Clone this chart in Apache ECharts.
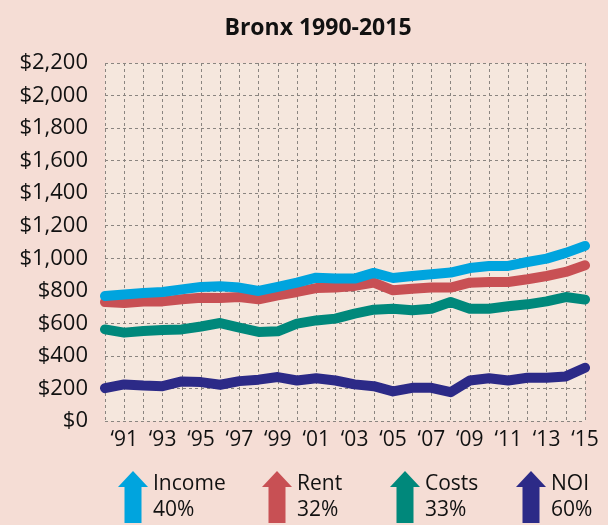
<!DOCTYPE html>
<html>
<head>
<meta charset="utf-8">
<script src="https://cdn.jsdelivr.net/npm/echarts@6/dist/echarts.min.js"></script>
<style>
html,body{margin:0;padding:0;background:#f5ddd5;}
#chart{width:608px;height:525px;}
</style>
</head>
<body>
<div id="chart"></div>
<script>
var years = ['1990','1991','1992','1993','1994','1995','1996','1997','1998','1999','2000','2001','2002','2003','2004','2005','2006','2007','2008','2009','2010','2011','2012','2013','2014','2015'];
var income = [768,778,787,793,809,824,828,820,799,824,850,881,875,875,910,879,891,902,912,940,953,953,977,998,1033,1076];
var rent   = [731,725,735,735,748,758,756,762,748,772,793,817,820,830,850,803,813,820,820,850,854,854,871,891,916,957];
var costs  = [563,543,553,559,563,581,602,574,547,551,598,618,629,660,684,690,680,690,731,690,690,705,717,735,762,746];
var noi    = [202,225,218,214,243,239,223,245,254,270,249,263,249,225,214,182,204,204,177,249,263,249,266,266,274,327];
var seriesNames = ['Income','Rent','Costs','NOI'];
var changes = ['40%','32%','33%','60%'];
var colors = ['#00a4de','#c85054','#00887b','#2c2a87'];
var legendLefts = [118, 262, 390, 516];
var yTicks = {min:0, max:2200, interval:200};

var font = '"Open Sans", "Noto Sans", sans-serif';
var arrow = 'path://M15,0 L30,16 L23.5,16 L23.5,52 L6.5,52 L6.5,16 L0,16 Z';

var chart = echarts.init(document.getElementById('chart'));
var dataMap = {Income: income, Rent: rent, Costs: costs, NOI: noi};
var order = ['NOI','Costs','Rent','Income'];
var series = order.map(function(n){
  var i = seriesNames.indexOf(n);
  return {
    name: n, type: 'line', data: dataMap[n], symbol: 'none', smooth: false,
    lineStyle: {width: 10, color: colors[i], cap: 'round', join: 'round'},
    itemStyle: {color: colors[i]},
    z: 3 + (3 - i)
  };
});
var legends = seriesNames.map(function(n, i){
  return {
    data: [{name: n, icon: arrow, itemStyle: {color: colors[i]}}],
    left: legendLefts[i], top: 468, padding: 0,
    itemWidth: 30, itemHeight: 52, itemGap: 0,
    selectedMode: false,
    formatter: function(name){ return name + '\n' + changes[i]; },
    textStyle: {fontFamily: font, fontSize: 21, color: '#111', lineHeight: 26, padding: [6,0,0,0]}
  };
});
chart.setOption({
  backgroundColor: '#f5ddd5',
  animation: false,
  title: {
    text: 'Bronx 1990-2015', left: 313, top: 12, textAlign: 'center',
    textStyle: {fontFamily: font, fontSize: 23, fontWeight: 'bold', color: '#111'}
  },
  legend: legends,
  grid: {left: 105, right: 23, top: 63, bottom: 104, show: true, backgroundColor: '#f5e7dd', borderWidth: 0},
  xAxis: {
    type: 'category', data: years, boundaryGap: false,
    axisLine: {show: false}, axisTick: {show: false},
    axisLabel: {
      interval: function(i){ return i % 2 === 1; },
      formatter: function(v){ return '\u2018' + v.slice(2); },
      fontFamily: font, fontSize: 21, color: '#111', margin: 9
    },
    splitLine: {show: true, interval: 0, lineStyle: {color: '#8a8580', type: [3,3], width: 1}}
  },
  yAxis: {
    type: 'value', min: yTicks.min, max: yTicks.max, interval: yTicks.interval,
    axisLine: {show: false}, axisTick: {show: false},
    axisLabel: {
      formatter: function(v){ return '$' + v.toLocaleString('en-US'); },
      fontFamily: font, fontSize: 22, color: '#111', margin: 17
    },
    splitLine: {show: true, lineStyle: {color: '#8a8580', type: [3,3], width: 1}}
  },
  series: series
});
</script>
</body>
</html>
